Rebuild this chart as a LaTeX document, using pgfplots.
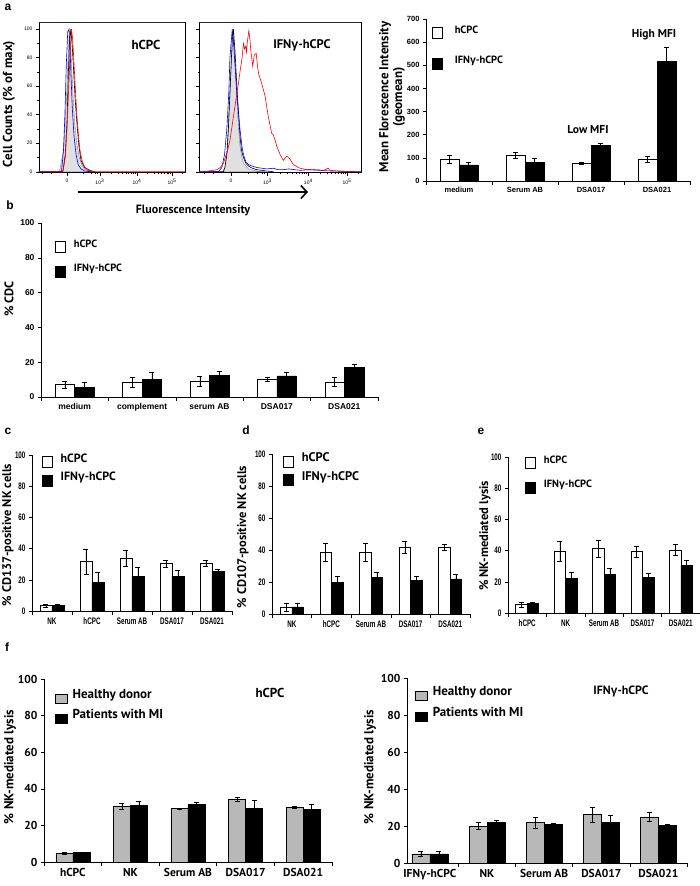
\documentclass[border=0pt]{standalone}
\usepackage{pgfplots}
\pgfplotsset{compat=1.18}
\usepackage{fontspec}
\setmainfont{PT Sans}
\newfontfamily\arial{Liberation Sans}
\newfontfamily\narrow[FakeStretch=0.66]{Liberation Sans}
\usetikzlibrary{arrows.meta}
\newcommand{\gam}{{\arial γ}}
\newcommand{\fs}[1]{\fontsize{#1}{#1}\selectfont}
\pgfplotsset{/pgf/number format/assume math mode=true}
\pgfplotsset{
  barax/.style={scale only axis, anchor=south west, axis lines=left,
    axis line style={-, line width=0.6pt}, ymin=0, ybar=0pt, tick align=outside,
    major tick length=3pt, minor tick length=4pt, major x tick style={draw=none},
    minor x tick style={line width=0.6pt, black}, major y tick style={line width=0.6pt, black},
    clip=false, legend cell align=left},
  wb/.style={fill=white, draw=black, line width=0.5pt},
  bb/.style={fill=black, draw=black, line width=0.5pt},
  gb/.style={fill=black!28, draw=black, line width=0.5pt},
  eb/.style={error bars/.cd, y dir=both, y explicit, error bar style={line width=0.5pt, black, solid},
    error mark options={rotate=90, mark size=2.5pt, line width=0.5pt, black}},
  sq/.style={legend image code/.code={\draw[##1] (0pt,-5.5pt) rectangle (10pt,5.5pt);}},
  sqf/.style={legend image code/.code={\draw[##1] (0pt,-4.5pt) rectangle (12pt,4.5pt);}},
  leg/.style 2 args={legend style={at={#1}, anchor=north west, draw=none, fill=none, inner sep=0pt,
    font=#2, row sep=10pt, nodes={inner sep=0pt, anchor=base west},
    /tikz/every odd column/.append style={column sep=8pt}}},
  histax/.style={scale only axis, anchor=south west, xmin=-0.8, xmax=3.37, ymin=-0.5, ymax=105,
    xtick={0,0.94,2,3}, xticklabels={0,10\textsuperscript{3},10\textsuperscript{4},10\textsuperscript{5}},
    minor xtick={-0.7,-0.45,0.45,0.68,0.8,0.87,1.26,1.45,1.58,1.68,1.76,1.84,1.9,1.95,2.3,2.48,2.6,2.7,2.78,2.85,2.9,2.95,3.3},
    ytick={0,20,...,100}, minor ytick={10,30,50,70,90}, tick pos=left, tick align=outside,
    major tick length=3pt, minor tick length=1.5pt, tick style={black, line width=0.5pt},
    tick label style={font=\arial\fs{5}}, axis line style={line width=0.7pt}, clip=true},
}
\begin{document}
\begin{tikzpicture}
\path[use as bounding box] (0pt,-886pt) rectangle (700pt,0pt);
% ---------- panel a : histograms
\begin{axis}[histax, at={(39pt,-172.5pt)}, width=146pt, height=150.5pt]
\addplot[fill=black!12, draw=black!50, line width=0.4pt] coordinates {(-0.25,0) (-0.2,2) (-0.1,15) (-0.04,40) (0,60) (0.04,85) (0.06,95) (0.1,90) (0.14,70) (0.18,50) (0.23,32) (0.28,20) (0.35,10) (0.42,5) (0.5,2) (0.61,0.5) (0.75,0)} \closedcycle;
\addplot[black, line width=0.6pt] coordinates {(-0.8,0) (-0.12,0) (-0.05,12) (0,35) (0.04,70) (0.07,90) (0.11,100) (0.15,88) (0.18,75) (0.23,52) (0.28,35) (0.34,18) (0.4,8) (0.5,3) (0.66,1) (0.8,0)};
\addplot[blue, line width=0.6pt] coordinates {(-0.8,0) (-0.16,0) (-0.1,15) (-0.06,40) (-0.02,75) (0.02,98) (0.06,100) (0.09,85) (0.11,70) (0.15,45) (0.2,25) (0.26,12) (0.32,5) (0.4,2) (0.51,0.5) (0.7,0)};
\addplot[red, line width=0.6pt] coordinates {(-0.8,0) (-0.12,0) (-0.05,10) (0,30) (0.05,60) (0.09,85) (0.13,100) (0.16,93) (0.18,85) (0.23,62) (0.28,40) (0.33,25) (0.37,15) (0.44,7) (0.51,3) (0.6,1) (0.75,0) (3.37,0)};
\draw[line width=1.6pt, black!85] (rel axis cs:0,1) -- (rel axis cs:1,1);
\end{axis}
\begin{axis}[histax, at={(199pt,-172.5pt)}, width=162pt, height=150.5pt, xmin=-0.83, xmax=3.36, yticklabels={}]
\addplot[fill=black!12, draw=black!50, line width=0.4pt] coordinates {(-0.22,0) (-0.16,3) (-0.1,15) (-0.05,45) (0,72) (0.03,88) (0.06,95) (0.1,80) (0.13,62) (0.16,45) (0.2,28) (0.23,18) (0.28,10) (0.32,6) (0.45,2) (0.66,0.5) (0.9,0)} \closedcycle;
\addplot[black, line width=0.6pt] coordinates {(-0.83,0) (-0.2,0) (-0.16,3) (-0.11,12) (-0.07,30) (-0.03,55) (0,75) (0.03,92) (0.06,100) (0.1,85) (0.13,70) (0.16,55) (0.2,38) (0.23,25) (0.27,15) (0.32,10) (0.38,6) (0.45,4) (0.55,2.5) (0.66,1.5) (0.8,1) (0.92,0.5) (1.1,0)};
\addplot[blue, line width=0.6pt] coordinates {(-0.83,0) (-0.33,0) (-0.24,3) (-0.17,12) (-0.11,30) (-0.06,55) (-0.03,80) (0.03,100) (0.07,88) (0.1,75) (0.16,50) (0.23,30) (0.28,18) (0.32,12) (0.38,7) (0.45,5) (0.55,4) (0.66,3) (0.8,2.5) (0.92,2) (1.1,2.5) (1.2,1.5) (1.35,1.5) (1.5,2) (1.78,1) (2.0,1.5) (2.3,1) (2.6,0.5) (3.0,0.3) (3.36,0)};
\addplot[red, line width=0.6pt] coordinates {(-0.83,0) (-0.6,0.5) (-0.37,1.4) (-0.28,3) (-0.2,6) (-0.1,14) (-0.03,22) (0.03,33) (0.1,46) (0.19,62) (0.24,72) (0.28,79) (0.32,90) (0.35,86) (0.38,88) (0.4,84) (0.42,91) (0.46,99) (0.49,92) (0.51,85) (0.56,74) (0.58,78) (0.6,82) (0.65,83) (0.68,75) (0.71,69) (0.79,62) (0.88,53) (0.96,39) (1.05,27) (1.09,26) (1.14,22) (1.18,18) (1.27,12) (1.35,8) (1.44,11) (1.48,10) (1.52,9) (1.61,5) (1.78,2.5) (1.96,1.4) (2.21,1.4) (2.4,1) (2.51,2.5) (2.56,1) (2.82,0.5) (3.0,0.2) (3.36,0)};
\draw[line width=1.6pt, black!85] (rel axis cs:0,1) -- (rel axis cs:1,1);
\end{axis}
\node[font=\bfseries\fs{13}] at (146pt,-45pt) {hCPC};
\node[font=\bfseries\fs{12.5}] at (302pt,-45pt) {IFN\gam-hCPC};
\node[rotate=90, font=\bfseries\fs{13}] at (9pt,-104pt) {Cell Counts (\% of max)};
\draw[line width=1.6pt, -{Straight Barb[length=6pt, width=13pt, line width=1.6pt]}] (78pt,-192pt) -- (308pt,-192pt);
\node[font=\bfseries\fs{12}] at (193pt,-210pt) {Fluorescence Intensity};
\node[font=\arial\bfseries\fs{12}] at (8pt,-7pt) {a};
% ---------- panel a : MFI bars
\begin{axis}[barax, at={(426pt,-181pt)}, width=264pt, height=162pt, xmin=-0.5, xmax=3.5, ymax=700, bar width=19pt,
  xtick={0,1,2,3}, xticklabels={medium,Serum AB,DSA017,DSA021}, minor xtick={-0.5,0.5,1.5,2.5,3.5},
  ytick={0,100,...,700}, tick label style={font=\arial\bfseries\fs{7.5}},
  leg={(0.023,0.96)}{\bfseries\fs{10.5}}, legend style={row sep=17pt, /tikz/every odd column/.append style={column sep=12pt}}]
\addplot[wb, sq, eb] coordinates {(0,94) +- (0,18) (1,112) +- (0,12) (2,78) +- (0,4) (3,94) +- (0,15)};
\addplot[bb, sq, eb] coordinates {(0,70) +- (0,10) (1,82) +- (0,16) (2,153) +- (0,11) (3,517) +- (0,59)};
\legend{hCPC, IFN\gam-hCPC}
\end{axis}
\node[rotate=90, font=\bfseries\fs{13}] at (385pt,-97pt) {Mean Florescence Intensity};
\node[rotate=90, font=\bfseries\fs{13}] at (399pt,-97pt) {(geomean)};
\node[font=\bfseries\fs{11.5}] at (588pt,-130pt) {Low MFI};
\node[font=\bfseries\fs{11.5}] at (654pt,-35pt) {High MFI};
% ---------- panel b
\node[font=\arial\bfseries\fs{12}] at (10pt,-205pt) {b};
\begin{axis}[barax, at={(41pt,-397pt)}, width=337pt, height=174pt, xmin=-0.5, xmax=4.5, ymax=100, bar width=19.5pt,
  xtick={0,...,4}, xticklabels={medium,complement,serum AB,DSA017,DSA021}, minor xtick={-0.5,0.5,...,4.5},
  ytick={0,20,...,100}, tick label style={font=\arial\bfseries\fs{8.5}},
  leg={(0.042,0.905)}{\bfseries\fs{10.5}}, legend style={row sep=11pt}]
\addplot[wb, sq, eb] coordinates {(0,7.3) +- (0,2) (1,8.6) +- (0,3) (2,9) +- (0,2.7) (3,10.3) +- (0,1.3) (4,8.6) +- (0,2.5)};
\addplot[bb, sq, eb] coordinates {(0,5.6) +- (0,2.6) (1,10.2) +- (0,4) (2,12.6) +- (0,2.3) (3,12.1) +- (0,2) (4,16.9) +- (0,2)};
\legend{hCPC, IFN\gam-hCPC}
\end{axis}
\node[rotate=90, font=\bfseries\fs{12.5}] at (9pt,-299pt) {\% CDC};
% ---------- panel c
\node[font=\arial\bfseries\fs{12}] at (8pt,-431pt) {c};
\begin{axis}[barax, at={(32pt,-611pt)}, width=200pt, height=156pt, xmin=-0.5, xmax=4.5, ymax=100, bar width=12pt,
  xtick={0,...,4}, xticklabels={NK,hCPC,Serum AB,DSA017,DSA021}, minor xtick={-0.5,0.5,...,4.5},
  ytick={0,20,...,100}, tick label style={font=\narrow\bfseries\fs{9.5}},
  leg={(0.05,1.01)}{\bfseries\fs{12}}, legend style={row sep=4pt}]
\addplot[wb, sq, eb] coordinates {(0,3.4) +- (0,1) (1,31.6) +- (0,8) (2,33.7) +- (0,5) (3,30.3) +- (0,2) (4,30.7) +- (0,2)};
\addplot[bb, sq, eb] coordinates {(0,3.5) +- (0,1) (1,18.3) +- (0,6.4) (2,22) +- (0,6) (3,22.4) +- (0,4) (4,25.2) +- (0,1.7)};
\legend{hCPC, IFN\gam-hCPC}
\end{axis}
\node[rotate=90, font=\bfseries\fs{12.5}] at (8pt,-535pt) {\% CD137-positive NK cells};
% ---------- panel d
\node[font=\arial\bfseries\fs{12}] at (246pt,-430pt) {d};
\begin{axis}[barax, at={(272pt,-614pt)}, width=198pt, height=160pt, xmin=-0.5, xmax=4.5, ymax=100, bar width=11.5pt,
  xtick={0,...,4}, xticklabels={NK,hCPC,Serum AB,DSA017,DSA021}, minor xtick={-0.5,0.5,...,4.5},
  ytick={0,20,...,100}, tick label style={font=\narrow\bfseries\fs{9.5}},
  leg={(0.056,1.01)}{\bfseries\fs{12.5}}, legend style={row sep=4pt}]
\addplot[wb, sq, eb] coordinates {(0,4.5) +- (0,2.5) (1,38.5) +- (0,5.7) (2,38.5) +- (0,5.7) (3,41.7) +- (0,4) (4,41.7) +- (0,2)};
\addplot[bb, sq, eb] coordinates {(0,4.5) +- (0,2.5) (1,19.8) +- (0,4) (2,22.9) +- (0,3) (3,21) +- (0,2.3) (4,22) +- (0,2.7)};
\legend{hCPC, IFN\gam-hCPC}
\end{axis}
\node[rotate=90, font=\bfseries\fs{12.5}] at (243pt,-537pt) {\% CD107-positive NK cells};
% ---------- panel e
\node[font=\arial\bfseries\fs{12}] at (481pt,-431pt) {e};
\begin{axis}[barax, at={(508pt,-613pt)}, width=192pt, height=156pt, xmin=-0.5, xmax=4.5, ymax=100, bar width=11.5pt,
  xtick={0,...,4}, xticklabels={hCPC,NK,Serum AB,DSA017,DSA021}, minor xtick={-0.5,0.5,...,4.5},
  ytick={0,20,...,100}, tick label style={font=\narrow\bfseries\fs{9.5}},
  leg={(0.089,1.01)}{\bfseries\fs{10.5}}, legend style={row sep=11pt}]
\addplot[wb, sq, eb] coordinates {(0,5.5) +- (0,1.5) (1,39.4) +- (0,6.5) (2,41.2) +- (0,5.5) (3,39.4) +- (0,3.5) (4,40.5) +- (0,3.4)};
\addplot[bb, sq, eb] coordinates {(0,6) +- (0,1) (1,22.2) +- (0,4) (2,24.7) +- (0,4.3) (3,22.8) +- (0,2.6) (4,30.7) +- (0,2.8)};
\legend{hCPC, IFN\gam-hCPC}
\end{axis}
\node[rotate=90, font=\bfseries\fs{12.5}] at (485pt,-536pt) {\% NK-mediated lysis};
% ---------- panel f
\node[font=\arial\bfseries\fs{12}] at (7pt,-647pt) {f};
\begin{axis}[barax, at={(44pt,-862pt)}, width=288pt, height=183pt, xmin=-0.5, xmax=4.5, ymax=100, bar width=17pt,
  xtick={0,...,4}, xticklabels={hCPC,NK,Serum AB,DSA017,DSA021}, minor xtick={-0.5,0.5,...,4.5},
  ytick={0,20,...,100}, tick label style={font=\bfseries\fs{11.5}},
  leg={(0.038,0.945)}{\bfseries\fs{13}}, legend style={row sep=6pt, /tikz/every odd column/.append style={column sep=5pt}}]
\addplot[gb, sqf, eb] coordinates {(0,4.9) +- (0,0.5) (1,30.4) +- (0,1.5) (2,29.3) +- (0,0.3) (3,34.1) +- (0,1.1) (4,29.7) +- (0,0.5)};
\addplot[bb, sqf, eb] coordinates {(0,5.1) +- (0,0.5) (1,30.8) +- (0,2.4) (2,31.3) +- (0,1.1) (3,29.3) +- (0,4.4) (4,28.8) +- (0,2.7)};
\legend{Healthy donor, Patients with MI}
\end{axis}
\node[font=\bfseries\fs{13}] at (270pt,-693pt) {hCPC};
\node[rotate=90, font=\bfseries\fs{13}] at (10pt,-767pt) {\% NK-mediated lysis};
\begin{axis}[barax, at={(407pt,-863pt)}, width=280pt, height=185pt, xmin=-0.4, xmax=4.5, ymax=100, bar width=18pt,
  xtick={0,...,4}, xticklabels={IFN\gam-hCPC,NK,Serum AB,DSA017,DSA021}, minor xtick={0.5,1.5,...,4.5},
  ytick={0,20,...,100}, tick label style={font=\bfseries\fs{11.5}},
  leg={(0.029,0.955)}{\bfseries\fs{13}}, legend style={row sep=7pt, /tikz/every odd column/.append style={column sep=5pt}}]
\addplot[gb, sqf, eb] coordinates {(0,5) +- (0,1.5) (1,20) +- (0,2) (2,21.8) +- (0,3.2) (3,26.1) +- (0,4) (4,25) +- (0,2.5)};
\addplot[bb, sqf, eb] coordinates {(0,4.9) +- (0,1.2) (1,21.8) +- (0,1.5) (2,20.7) +- (0,1) (3,21.8) +- (0,4) (4,20.4) +- (0,0.3)};
\legend{Healthy donor, Patients with MI}
\end{axis}
\node[font=\bfseries\fs{12}] at (621pt,-691pt) {IFN\gam-hCPC};
\node[rotate=90, font=\bfseries\fs{13}] at (370pt,-767pt) {\% NK-mediated lysis};
\end{tikzpicture}
\end{document}
